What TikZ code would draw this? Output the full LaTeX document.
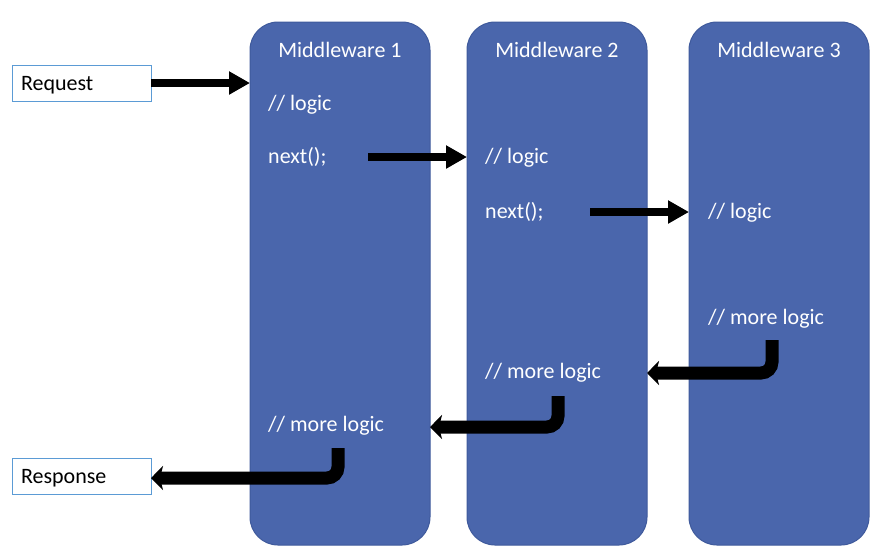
\documentclass[tikz,border=0pt]{standalone}
\usepackage{fontspec}
\setmainfont{Carlito}
\usetikzlibrary{arrows.meta}
\definecolor{mwfill}{HTML}{4A66AC}
\definecolor{mwline}{HTML}{3F5A9C}
\definecolor{iobox}{HTML}{5B9BD5}
\tikzset{
  mw/.style={draw=mwline, line width=1pt, fill=mwfill, rounded corners=28pt,
    minimum width=180pt, minimum height=523pt, inner sep=0pt, outer sep=0pt},
  mwtitle/.style={text=white, font=\fontsize{22}{26}\selectfont, inner sep=0pt, anchor=base},
  code/.style={text=white, font=\fontsize{22}{26}\selectfont, anchor=base west, inner sep=0pt},
  io/.style={draw=iobox, line width=1pt, fill=white, anchor=north west,
    text width=121pt, align=left, inner xsep=9pt, inner ysep=0pt,
    text height=25pt, text depth=11pt, outer sep=0pt, font=\fontsize{22}{26}\selectfont},
  fwd/.style={line width=8pt, -{Triangle[length=21pt,width=22pt]}},
  back/.style={line width=13pt, rounded corners=11pt, -{Stealth[length=12pt,width=24pt,inset=3pt]}}
}
\begin{document}
\begin{tikzpicture}[x=1pt,y=-1pt]
\useasboundingbox (0,0) rectangle (882,558);
\fill[white] (0,0) rectangle (882,558);
% middleware boxes
\node[mw] (m1) at (340,283.5) {};
\node[mw] (m2) at (557,283.5) {};
\node[mw] (m3) at (779,283.5) {};
\node[mwtitle] (t1) at (340,57) {Middleware 1};
\node[mwtitle] (t2) at (557,57) {Middleware 2};
\node[mwtitle] (t3) at (779,57) {Middleware 3};
% request / response
\node[io] (req) at (12,65) {Request};
\node[io] (resp) at (12,458) {Response};
% code texts
\node[code] (l1) at (268,110) {// logic};
\node[code] (n1) at (268,163) {next();};
\node[code] (l2) at (485,163) {// logic};
\node[code] (n2) at (485,218) {next();};
\node[code] (l3) at (708,218) {// logic};
\node[code] (ml3) at (708,324) {// more logic};
\node[code] (ml2) at (485,378) {// more logic};
\node[code] (ml1) at (268,431) {// more logic};
% connector helper coordinates
\coordinate (a1s) at (368,157);
\coordinate (a2s) at (590,212);
\coordinate (b3s) at (772,340);
\coordinate (b3c) at (772,373);
\coordinate (b2s) at (558,396);
\coordinate (b2c) at (558,427);
\coordinate (b1s) at (338,448);
\coordinate (b1c) at (338,478);
% forward arrows
\draw[fwd] (req.east) -- (m1.west |- req.east);
\draw[fwd] (a1s) -- (m2.west |- a1s);
\draw[fwd] (a2s) -- (m3.west |- a2s);
% return arrows
\draw[back] (b3s) -- (b3c) -- (m2.east |- b3c);
\draw[back] (b2s) -- (b2c) -- (m1.east |- b2c);
\draw[back] (b1s) -- (b1c) -- (resp.east |- b1c);
\end{tikzpicture}
\end{document}
